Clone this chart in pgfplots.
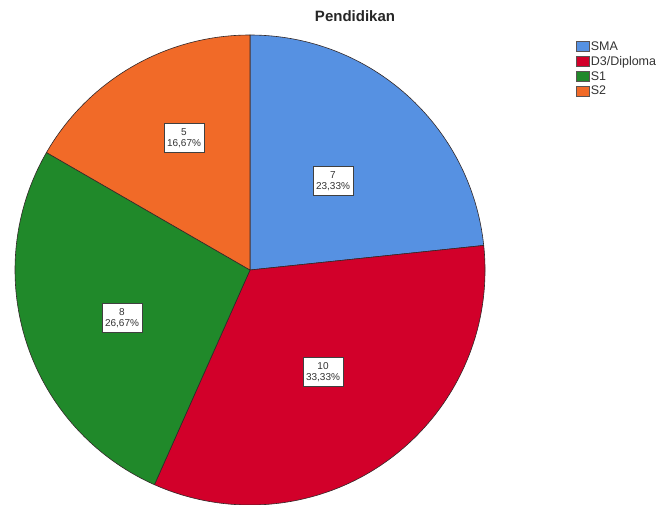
\documentclass[border=0pt]{standalone}
\usepackage{fontspec}
\setmainfont{Liberation Sans}
\usepackage{pgfplots}
\usepackage{pgfplotstable}
\pgfplotsset{compat=1.18}
\definecolor{c0}{RGB}{86,145,226}
\definecolor{c1}{RGB}{210,0,42}
\definecolor{c2}{RGB}{32,137,42}
\definecolor{c3}{RGB}{241,106,40}
\definecolor{edge}{RGB}{50,40,40}
% value = count; lx, ly = label box centre (picture units, y up)
\pgfplotstableread{
name value lx ly
SMA 7 333 323
D3/Diploma 10 323 132
S1 8 122 186
S2 5 184 366
}\piedata
\def\cum{0}%
\pgfplotsforeachungrouped \i in {0,...,3}{%
  \pgfplotstablegetelem{\i}{value}\of\piedata
  \pgfmathsetmacro\cumnew{\cum+\pgfplotsretval}%
  \expandafter\xdef\csname sa\i\endcsname{\cum}%
  \expandafter\xdef\csname sb\i\endcsname{\cumnew}%
  \global\let\cum\cumnew
}%
\xdef\pietotal{\cum}%
\pgfplotsforeachungrouped \i in {0,...,3}{%
  \pgfmathsetmacro\tmpa{90-360*\csname sa\i\endcsname/\pietotal}%
  \pgfmathsetmacro\tmpb{90-360*\csname sb\i\endcsname/\pietotal}%
  \expandafter\xdef\csname angA\i\endcsname{\tmpa}%
  \expandafter\xdef\csname angB\i\endcsname{\tmpb}%
}%
\newcommand\pielabel{%
  \pgfmathfloattofixed{\pgfplotspointmeta}\xdef\piePV{\pgfmathresult}%
  \pgfmathparse{100*\piePV/\pietotal}\xdef\piePP{\pgfmathresult}%
  \pgfmathprintnumber[fixed,precision=0,assume math mode=true]{\piePV}\\%
  \pgfmathprintnumber[fixed,fixed zerofill,precision=2,use comma,assume math mode=true]{\piePP}\%}
\begin{document}
\begin{tikzpicture}
\begin{axis}[
  scale only axis, width=664pt, height=504pt,
  xmin=0, xmax=664, ymin=0, ymax=504,
  hide axis, clip=false,
  title={Pendidikan},
  title style={at={(355/664,482/504)}, anchor=center, font=\fontsize{15}{17}\selectfont\bfseries, text=black!85},
  legend style={at={(axis cs:576,464)}, anchor=north west, draw=none, fill=none,
    font=\fontsize{12.5}{14}\selectfont, text=black!80, row sep=2.2pt,
    inner sep=0pt, nodes={inner sep=1.2pt}},
  legend cell align=left,
  legend image code/.code={\draw[#1] (0pt,-4.5pt) rectangle (13pt,5.5pt);},
]
\pgfplotsinvokeforeach{0,...,3}{
  \fill[fill=c#1, draw=edge, line width=0.6pt, line join=round]
    (axis cs:250,234) -- ++(\csname angA#1\endcsname:235pt)
    arc[start angle=\csname angA#1\endcsname, end angle=\csname angB#1\endcsname, radius=235pt] -- cycle;
}
\addlegendimage{fill=c0, draw=edge!80, line width=0.4pt}
\addlegendentry{SMA}
\addlegendimage{fill=c1, draw=edge!80, line width=0.4pt}
\addlegendentry{D3/Diploma}
\addlegendimage{fill=c2, draw=edge!80, line width=0.4pt}
\addlegendentry{S1}
\addlegendimage{fill=c3, draw=edge!80, line width=0.4pt}
\addlegendentry{S2}
\addplot[forget plot, only marks, mark=none,
  point meta=explicit,
  nodes near coords={\pielabel},
  every node near coord/.append style={anchor=center, align=center, draw=black!75, fill=white,
    text=black!80, font=\fontsize{10}{11}\selectfont, inner xsep=3pt, inner ysep=5pt, line width=0.7pt}]
  table[x=lx, y=ly, meta=value] {\piedata};
\end{axis}
\pgfresetboundingbox
\path[use as bounding box] (current axis.south west) rectangle (current axis.north east);
\end{tikzpicture}
\end{document}
